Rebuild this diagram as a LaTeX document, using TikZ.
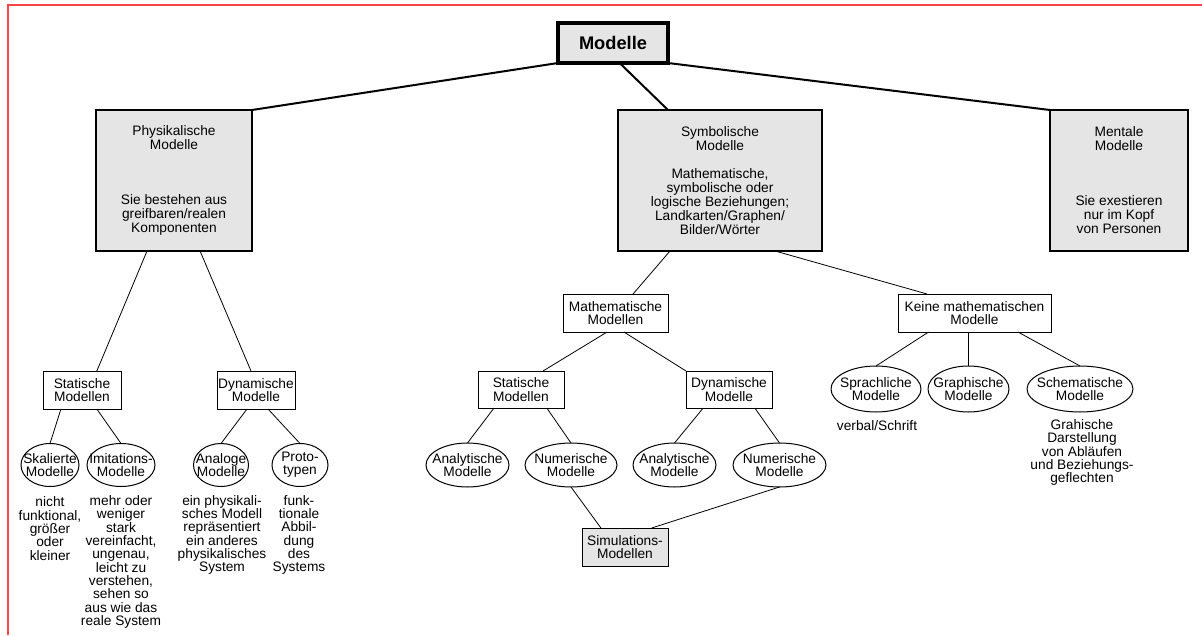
\documentclass[tikz,border=0pt]{standalone}
\usepackage{fontspec}
\setmainfont{Liberation Sans}
\usetikzlibrary{shapes.geometric,calc}
\definecolor{boxgray}{RGB}{229,229,229}
\definecolor{framered}{RGB}{255,70,70}
\begin{document}
\begin{tikzpicture}[x=0.75pt,y=-0.75pt,
  every node/.style={font=\fontsize{10.3}{10}\selectfont, align=center, inner sep=0pt, outer sep=0pt},
  bigbox/.style={draw, line width=1.5pt, fill=boxgray, font=\fontsize{10.3}{10.5}\selectfont},
  smallbox/.style={draw, line width=0.75pt, fill=white},
  simbox/.style={draw, line width=0.75pt, fill=boxgray},
  ov/.style={draw, ellipse, line width=0.75pt, fill=white},
  mainlink/.style={line width=1.5pt},
  sublink/.style={line width=0.6pt},
  desc/.style={anchor=center}]
\useasboundingbox (0,0) rectangle (1202,635);
% red frame
\draw[framered, line width=1.1pt] (8,635) -- (8,5) -- (1202,5);

% top
\node[draw, line width=3pt, fill=boxgray, minimum width=82.5pt, minimum height=30pt,
      font=\fontsize{13.7}{14}\bfseries\selectfont] (top) at (613,43) {Modelle};

% level 1
\node[bigbox, minimum width=117pt, minimum height=105.75pt] (phys) at (174,180.5)
  {Physikalische\\Modelle\\[30.75pt]Sie bestehen aus\\greifbaren/realen\\Komponenten};
\node[bigbox, minimum width=153pt, minimum height=105.75pt] (symb) at (720,180.5)
  {Symbolische\\Modelle\\[10.5pt]Mathematische,\\symbolische oder\\logische Beziehungen;\\Landkarten/Graphen/\\Bilder/Wörter};
\node[bigbox, minimum width=103.5pt, minimum height=105.75pt] (ment) at (1119,180.5)
  {Mentale\\Modelle\\[30.75pt]Sie exestieren\\nur im Kopf\\von Personen};

% physical branch
\node[smallbox, minimum width=58.5pt, minimum height=28.5pt] (pstat) at (82,390) {Statische\\Modellen};
\node[smallbox, minimum width=58.5pt, minimum height=28.5pt] (pdyn) at (256,390) {Dynamische\\Modelle};

\node[ov, minimum width=43.5pt, minimum height=32.25pt, label={center:Skalierte\\Modelle}] (skal) at (50,465) {};
\node[ov, minimum width=51pt, minimum height=32.25pt, label={center:Imitations-\\Modelle}] (imit) at (121,465) {};
\node[ov, minimum width=41.25pt, minimum height=32.25pt, label={center:Analoge\\Modelle}] (anal) at (221,465) {};
\node[ov, minimum width=42pt, minimum height=32.25pt, label={center:Proto-\\typen}] (proto) at (300,465) {};

\node[desc] (skald) at (50,528.6) {nicht\\funktional,\\größer\\oder\\kleiner};
\node[desc] (imitd) at (121,562) {mehr oder\\weniger\\stark\\vereinfacht,\\ungenau,\\leicht zu\\verstehen,\\sehen so\\aus wie das\\reale System};
\node[desc] (anald) at (222,535) {ein physikali-\\sches Modell\\repräsentiert\\ein anderes\\physikalisches\\System};
\node[desc] (protod) at (299,535) {funk-\\tionale\\Abbil-\\dung\\des\\Systems};

% symbolic branch
\node[smallbox, minimum width=78.75pt, minimum height=28.5pt] (math) at (615.5,313) {Mathematische\\Modellen};
\node[smallbox, minimum width=114.75pt, minimum height=28.5pt] (keine) at (974.5,313) {Keine mathematischen\\Modelle};

\node[smallbox, minimum width=64.5pt, minimum height=27.75pt] (mstat) at (521,389.5) {Statische\\Modellen};
\node[smallbox, minimum width=64.5pt, minimum height=27.75pt] (mdyn) at (729,389.5) {Dynamische\\Modelle};

\node[ov, minimum width=62.25pt, minimum height=33pt, label={center:Analytische\\Modelle}] (ana1) at (467.5,465) {};
\node[ov, minimum width=69pt, minimum height=33pt, label={center:Numerische\\Modelle}] (num1) at (571,465) {};
\node[ov, minimum width=62.25pt, minimum height=33pt, label={center:Analytische\\Modelle}] (ana2) at (674.5,465) {};
\node[ov, minimum width=69.75pt, minimum height=33pt, label={center:Numerische\\Modelle}] (num2) at (779.5,465) {};

\node[simbox, minimum width=64.5pt, minimum height=28.5pt] (sim) at (625,547) {Simulations-\\Modellen};

\node[ov, minimum width=67.5pt, minimum height=34.5pt, label={center:Sprachliche\\Modelle}] (sprach) at (876,389) {};
\node[ov, minimum width=60.75pt, minimum height=34.5pt, label={center:Graphische\\Modelle}] (graph) at (968.5,389) {};
\node[ov, minimum width=79.5pt, minimum height=34.5pt, label={center:Schematische\\Modelle}] (schem) at (1080,389) {};

\node[desc] (sprachd) at (877,426) {verbal/Schrift};
\node[desc] (schemd) at (1082,452.6) {Grahische\\Darstellung\\von Abläufen\\und Beziehungs-\\geflechten};

% connectors level 0 -> 1
\draw[mainlink] (top.south west) -- (phys.north east);
\draw[mainlink] ($(top.south west)!0.56!(top.south east)$) -- ($(symb.north west)!0.245!(symb.north east)$);
\draw[mainlink] (top.south east) -- (ment.north west);

% physical
\draw[sublink] ($(phys.south west)!0.327!(phys.south east)$) -- ($(pstat.north west)!0.69!(pstat.north east)$);
\draw[sublink] ($(phys.south west)!0.667!(phys.south east)$) -- ($(pdyn.north west)!0.436!(pdyn.north east)$);
\draw[sublink] ($(pstat.south west)!0.23!(pstat.south east)$) -- (skal.north);
\draw[sublink] ($(pstat.south west)!0.69!(pstat.south east)$) -- (imit.north);
\draw[sublink] ($(pdyn.south west)!0.385!(pdyn.south east)$) -- (anal.north);
\draw[sublink] ($(pdyn.south west)!0.654!(pdyn.south east)$) -- (proto.north);

% symbolic
\draw[sublink] ($(symb.south west)!0.255!(symb.south east)$) -- ($(math.north west)!0.667!(math.north east)$);
\draw[sublink] ($(symb.south west)!0.77!(symb.south east)$) -- ($(keine.north west)!0.19!(keine.north east)$);
\draw[sublink] ($(math.south west)!0.42!(math.south east)$) -- ($(mstat.north west)!0.756!(mstat.north east)$);
\draw[sublink] ($(math.south west)!0.58!(math.south east)$) -- (mdyn.north west);
\draw[sublink] ($(mstat.south west)!0.186!(mstat.south east)$) -- (ana1.north);
\draw[sublink] ($(mstat.south west)!0.80!(mstat.south east)$) -- (num1.north);
\draw[sublink] ($(mdyn.south west)!0.2!(mdyn.south east)$) -- (ana2.north);
\draw[sublink] ($(mdyn.south west)!0.80!(mdyn.south east)$) -- (num2.north);
\draw[sublink] (num1.south) -- ($(sim.north west)!0.22!(sim.north east)$);
\draw[sublink] (num2.south) -- ($(sim.north west)!0.81!(sim.north east)$);
\draw[sublink] ($(keine.south west)!0.2!(keine.south east)$) -- (sprach.north);
\draw[sublink] (graph.north |- keine.south) -- (graph.north);
\draw[sublink] ($(keine.south west)!0.784!(keine.south east)$) -- (schem.north);
\end{tikzpicture}
\end{document}
